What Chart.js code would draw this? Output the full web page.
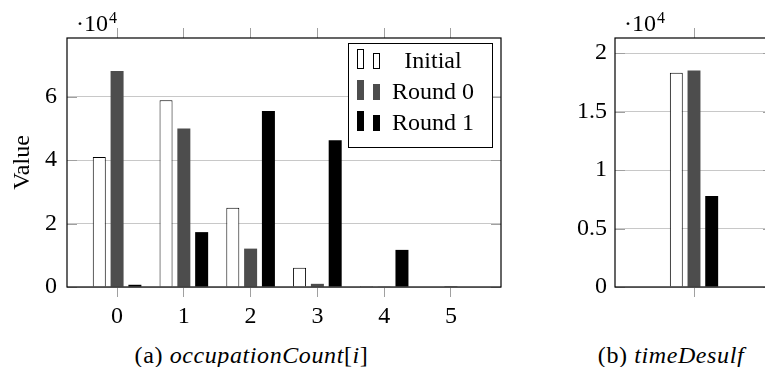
<!DOCTYPE html>
<html>
<head>
<meta charset="utf-8">
<script src="https://cdn.jsdelivr.net/npm/chart.js@4.4.1/dist/chart.umd.min.js"></script>
<style>
  html, body { margin: 0; padding: 0; background: #fff; overflow: hidden; }
  body { width: 765px; height: 367px; position: relative; }
  canvas { position: absolute; top: 0; }
  .cap { position: absolute; top: 341px; font-size: 24px; letter-spacing: 0.6px; font-family: "Liberation Serif", "Tinos", "Times New Roman", "DejaVu Serif", serif; line-height: 28px; text-align: center; white-space: nowrap; }
  .cap i { font-style: italic; }
</style>
</head>
<body>
<canvas id="chartA" width="510" height="335" style="left:0"></canvas>
<canvas id="chartB" width="260" height="335" style="left:520px"></canvas>
<div class="cap" style="left:0;width:503px">(a) <i>occupationCount</i>[<i>i</i>]</div>
<div class="cap" style="left:571px;width:200px">(b) <i>timeDesulf</i></div>
<script>
// occupation counts per bucket i
var categories = [0, 1, 2, 3, 4, 5];
var initialCounts = [41000, 58900, 25000, 6100, 300, 0];
var round0Counts = [68100, 50000, 12100, 1000, 200, 50];
var round1Counts = [700, 17300, 55500, 46300, 11700, 0];
var countTicks = [0, 20000, 40000, 60000];

// timeDesulf
var timeLabels = [''];
var timeInitial = [18330];
var timeRound0 = [18520];
var timeRound1 = [7780];
var timeTicks = [0, 5000, 10000, 15000, 20000];

var seriesNames = ['Initial', 'Round 0', 'Round 1'];
var fills = ['#ffffff', '#4d4d4d', '#000000'];

var FONT = '"Liberation Serif", "Tinos", "Times New Roman", "DejaVu Serif", serif';
Chart.defaults.font.family = FONT;
Chart.defaults.font.size = 24;
Chart.defaults.color = '#000';

var gridCol = '#c8c8c8';
var tickCol = '#a0a0a0';

function pts(vals) {
    return categories.map(function (c, i) { return {x: c, y: vals[i]}; });
}

function bars(a, b, c, catPct) {
    var all = [a, b, c];
    return all.map(function (d, i) {
        return {
            label: seriesNames[i],
            data: d,
            backgroundColor: fills[i],
            borderColor: i === 0 ? '#000' : fills[i],
            borderWidth: i === 0 ? 1 : 0,
            categoryPercentage: catPct,
            barPercentage: 0.73
        };
    });
}

// box, inner y ticks, exponent label
var frame = {
    id: 'frame',
    afterDraw: function (chart) {
        var ctx = chart.ctx, a = chart.chartArea, ys = chart.scales.y;
        ctx.save();
        ctx.strokeStyle = tickCol;
        ctx.lineWidth = 1;
        ys.ticks.forEach(function (t) {
            var py = Math.round(ys.getPixelForValue(t.value)) + 0.5;
            ctx.beginPath();
            ctx.moveTo(a.left, py); ctx.lineTo(a.left + 10, py);
            ctx.moveTo(a.right - 10, py); ctx.lineTo(a.right, py);
            ctx.stroke();
        });
        ctx.strokeStyle = '#000';
        ctx.lineWidth = 1.2;
        ctx.strokeRect(a.left, a.top, a.right - a.left, a.bottom - a.top);

        ctx.fillStyle = '#000';
        ctx.textBaseline = 'alphabetic';
        ctx.font = '24px ' + FONT;
        var x0 = a.left + 9;
        ctx.fillText('\u00b710', x0, 31);
        var w = ctx.measureText('\u00b710').width;
        ctx.font = '16px ' + FONT;
        ctx.fillText('4', x0 + w + 1, 23);
        ctx.restore();
    }
};

var boxLegend = {
    id: 'boxLegend',
    afterDraw: function (chart) {
        var ctx = chart.ctx, a = chart.chartArea;
        var bx = a.right - 153, by = a.top + 5, bw = 144, bh = 104;
        ctx.save();
        ctx.fillStyle = '#fff';
        ctx.fillRect(bx, by, bw, bh);
        ctx.strokeStyle = '#000';
        ctx.lineWidth = 1;
        ctx.strokeRect(bx + 0.5, by + 0.5, bw, bh);
        ctx.font = '24px ' + FONT;
        ctx.textAlign = 'center';
        ctx.textBaseline = 'middle';
        chart.data.datasets.forEach(function (ds, i) {
            var cy = by + 19 + 31 * i;
            [[bx + 9, 20], [bx + 25, 16]].forEach(function (b) {
                ctx.fillStyle = ds.backgroundColor;
                ctx.fillRect(b[0], cy + 7 - b[1], 7, b[1]);
                if (ds.borderWidth) {
                    ctx.strokeStyle = '#000';
                    ctx.strokeRect(b[0] + 0.5, cy + 7 - b[1] + 0.5, 6, b[1] - 1);
                }
            });
            ctx.fillStyle = '#000';
            ctx.fillText(ds.label, bx + 85, cy);
        });
        ctx.restore();
    }
};

function tickList(list) {
    return function (scale) {
        scale.ticks = list.map(function (v) { return {value: v}; });
    };
}

new Chart(document.getElementById('chartA'), {
    type: 'bar',
    data: { datasets: bars(pts(initialCounts), pts(round0Counts), pts(round1Counts), 0.8) },
    options: {
        responsive: false,
        animation: false,
        layout: { padding: { top: 28, right: 9, left: 0, bottom: 0 } },
        plugins: { legend: { display: false }, tooltip: { enabled: false } },
        scales: {
            x: {
                type: 'linear', position: 'bottom', min: -0.75, max: 5.75, offset: false,
                afterBuildTicks: tickList(categories),
                afterFit: function (s) { s.height = 48; },
                ticks: { stepSize: 1, includeBounds: false, padding: 5, autoSkip: false },
                grid: { drawOnChartArea: false, offset: false, tickLength: 10, tickColor: tickCol },
                border: { display: false }
            },
            x2: {
                type: 'linear', position: 'top', min: -0.75, max: 5.75, offset: false,
                afterBuildTicks: tickList(categories),
                afterFit: function (s) { s.height = 10; },
                ticks: { display: false },
                grid: { drawOnChartArea: false, offset: false, tickLength: 10, tickColor: tickCol },
                border: { display: false }
            },
            y: {
                min: 0, max: 78500,
                afterBuildTicks: tickList(countTicks),
                afterFit: function (s) { s.width = 67; },
                ticks: { padding: 10, callback: function (v) { return v / 10000; } },
                grid: { color: gridCol, drawTicks: false },
                border: { display: false },
                title: { display: true, text: 'Value', padding: { top: 8, bottom: 0 } }
            }
        }
    },
    plugins: [frame, boxLegend]
});

new Chart(document.getElementById('chartB'), {
    type: 'bar',
    data: { labels: timeLabels, datasets: bars(timeInitial, timeRound0, timeRound1, 0.336) },
    options: {
        responsive: false,
        animation: false,
        layout: { padding: { top: 28, right: 7, left: 0, bottom: 0 } },
        plugins: { legend: { display: false }, tooltip: { enabled: false } },
        scales: {
            x: {
                type: 'category', position: 'bottom', offset: true,
                afterFit: function (s) { s.height = 48; },
                ticks: { padding: 5 },
                grid: { drawOnChartArea: false, offset: false, tickLength: 10, tickColor: tickCol },
                border: { display: false }
            },
            x2: {
                type: 'category', position: 'top', offset: true,
                afterFit: function (s) { s.height = 10; },
                ticks: { display: false },
                grid: { drawOnChartArea: false, offset: false, tickLength: 10, tickColor: tickCol },
                border: { display: false }
            },
            y: {
                min: 0, max: 21300,
                afterBuildTicks: tickList(timeTicks),
                afterFit: function (s) { s.width = 95; },
                ticks: { padding: 8, callback: function (v) { return v / 10000; } },
                grid: { color: gridCol, drawTicks: false },
                border: { display: false }
            }
        }
    },
    plugins: [frame]
});
</script>
</body>
</html>
